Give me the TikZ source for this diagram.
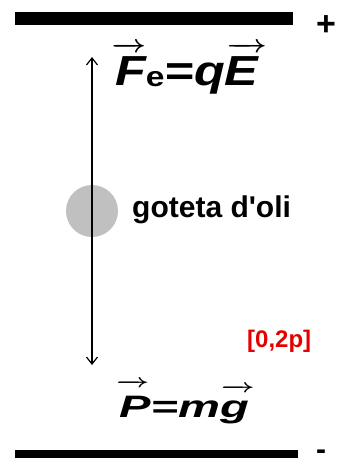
\documentclass[tikz,border=0pt]{standalone}
\usepackage{fix-cm}
\usepackage{graphicx}
\usepackage{fontspec}
\setmainfont{Liberation Sans}
\usetikzlibrary{arrows.meta, positioning}
\definecolor{dropgray}{RGB}{192,192,192}
\definecolor{markred}{RGB}{228,0,0}
% vector arrow over a letter: shift, extra width, arrow size, gap, letter
\newcommand{\arrowon}[5]{%
  \setbox0\hbox{#5}%
  \vbox{\offinterlineskip
    \hbox to \wd0{\kern#1\hbox to \dimexpr\wd0+#2\relax{\fontsize{#3}{#3}\selectfont\boldmath\rightarrowfill}\hss}%
    \vskip#4\box0}}

\begin{document}
\begin{tikzpicture}[x=1pt, y=-1pt, every node/.style={inner sep=0pt, font=\bfseries}]
    \useasboundingbox (0, 0) rectangle (339, 458);

    % Plates
    \fill (15, 12) rectangle (293, 25);
    \fill (15, 450) rectangle (298, 460);
    \node[anchor=base] (plus) at (326, 35) {\fontsize{34}{34}\selectfont +};
    \node[anchor=base] (minus) at (321, 459) {\fontsize{30}{30}\selectfont -};

    % Forces
    \node[anchor=base west] (fe) at (115, 85) {\scalebox{1.2}[1]{\fontsize{42}{42}\selectfont\itshape
        \arrowon{-3pt}{0pt}{25}{4pt}{F}\raisebox{-1pt}{\fontsize{28}{28}\selectfont\upshape e}=q\arrowon{1pt}{6pt}{25}{4pt}{E}}};
    \node[anchor=base west] (pes) at (119, 417) {\scalebox{1.52}[1]{\fontsize{31}{31}\selectfont\itshape
        \arrowon{-2pt}{1pt}{19}{8pt}{P}=m\arrowon{0pt}{4pt}{19}{8pt}{g}}};

    % Drop
    \node[circle, fill=dropgray, minimum size=52pt] (drop) at (92, 211) {};
    \coordinate (up) at (92, 57);
    \coordinate (down) at (92, 365);
    \draw[{Straight Barb[length=7pt, width=11pt]}-{Straight Barb[length=7pt, width=11pt]}, line width=1.2pt] (up) -- (down);
    \node[anchor=base west] (label) at (132, 217) {\fontsize{30}{30}\selectfont goteta d\textquotesingle oli};

    % Mark
    \node[anchor=base west, text=markred] (mark) at (247, 347) {\fontsize{24}{24}\selectfont [0,2p]};
\end{tikzpicture}
\end{document}
